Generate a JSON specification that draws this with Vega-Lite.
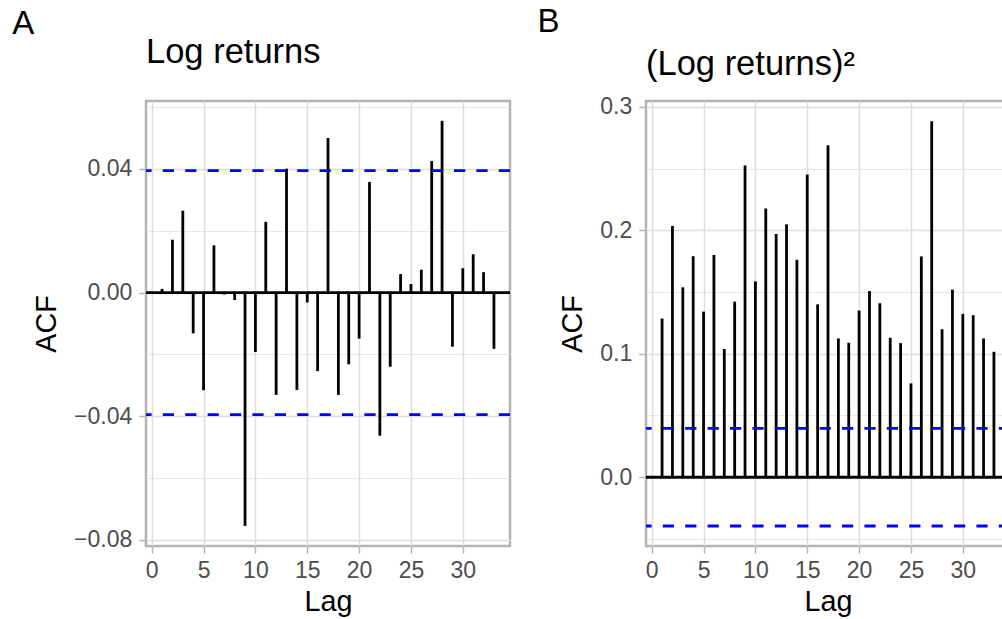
{
  "$schema": "https://vega.github.io/schema/vega-lite/v6.json",
  "autosize": {"type": "none"},
  "padding": {"left": 146, "top": 101, "right": 856, "bottom": 518},
  "background": "white",
  "spacing": 24,
  "config": {
    "font": "Liberation Sans",
    "view": {"stroke": "#b3b3b3", "strokeWidth": 2.5},
    "title": {"font": "Liberation Sans", "fontWeight": "normal", "color": "black", "anchor": "start", "baseline": "alphabetic"},
    "axis": {
      "domain": false,
      "labelFont": "Liberation Sans",
      "labelFontSize": 23,
      "labelColor": "#4d4d4d",
      "labelOverlap": false,
      "labelFlush": false,
      "labelBound": false,
      "tickColor": "#b3b3b3",
      "tickSize": 7.2,
      "tickWidth": 1.4,
      "gridColor": "#dedede",
      "gridWidth": 1.4,
      "titleFont": "Liberation Sans",
      "titleFontSize": 28.75,
      "titleFontWeight": "normal",
      "titleColor": "black"
    },
    "axisX": {"labelPadding": 6, "titlePadding": 5},
    "axisY": {"labelPadding": 7, "titlePadding": 12}
  },
  "datasets": {
    "acf_ret": [
      {"lag": 1, "acf": 0.0012}, {"lag": 2, "acf": 0.0171}, {"lag": 3, "acf": 0.0265},
      {"lag": 4, "acf": -0.0132}, {"lag": 5, "acf": -0.0316}, {"lag": 6, "acf": 0.0153},
      {"lag": 7, "acf": -0.0006}, {"lag": 8, "acf": -0.0024}, {"lag": 9, "acf": -0.0755},
      {"lag": 10, "acf": -0.0192}, {"lag": 11, "acf": 0.0229}, {"lag": 12, "acf": -0.0331},
      {"lag": 13, "acf": 0.0401}, {"lag": 14, "acf": -0.0315}, {"lag": 15, "acf": -0.0032},
      {"lag": 16, "acf": -0.0254}, {"lag": 17, "acf": 0.05}, {"lag": 18, "acf": -0.0331},
      {"lag": 19, "acf": -0.0232}, {"lag": 20, "acf": -0.0149}, {"lag": 21, "acf": 0.0358},
      {"lag": 22, "acf": -0.0463}, {"lag": 23, "acf": -0.024}, {"lag": 24, "acf": 0.006},
      {"lag": 25, "acf": 0.0028}, {"lag": 26, "acf": 0.0074}, {"lag": 27, "acf": 0.0426},
      {"lag": 28, "acf": 0.0556}, {"lag": 29, "acf": -0.0175}, {"lag": 30, "acf": 0.0079},
      {"lag": 31, "acf": 0.0124}, {"lag": 32, "acf": 0.0066}, {"lag": 33, "acf": -0.0182}
    ],
    "acf_sq": [
      {"lag": 1, "acf": 0.1285}, {"lag": 2, "acf": 0.2035}, {"lag": 3, "acf": 0.1538},
      {"lag": 4, "acf": 0.179}, {"lag": 5, "acf": 0.1341}, {"lag": 6, "acf": 0.18},
      {"lag": 7, "acf": 0.1038}, {"lag": 8, "acf": 0.1422}, {"lag": 9, "acf": 0.2524},
      {"lag": 10, "acf": 0.1586}, {"lag": 11, "acf": 0.2177}, {"lag": 12, "acf": 0.197},
      {"lag": 13, "acf": 0.2048}, {"lag": 14, "acf": 0.1761}, {"lag": 15, "acf": 0.2452},
      {"lag": 16, "acf": 0.14}, {"lag": 17, "acf": 0.2688}, {"lag": 18, "acf": 0.1124},
      {"lag": 19, "acf": 0.1089}, {"lag": 20, "acf": 0.135}, {"lag": 21, "acf": 0.1508},
      {"lag": 22, "acf": 0.1409}, {"lag": 23, "acf": 0.1129}, {"lag": 24, "acf": 0.1086},
      {"lag": 25, "acf": 0.076}, {"lag": 26, "acf": 0.1788}, {"lag": 27, "acf": 0.2884},
      {"lag": 28, "acf": 0.1199}, {"lag": 29, "acf": 0.1519}, {"lag": 30, "acf": 0.1323},
      {"lag": 31, "acf": 0.1312}, {"lag": 32, "acf": 0.1124}, {"lag": 33, "acf": 0.1016}
    ],
    "ci": [{"ci": 0.0395}, {"ci": -0.0395}],
    "zero": [{"y": 0}]
  },
  "hconcat": [
    {
      "title": {"text": "A", "fontSize": 33, "dx": -19, "offset": -8},
      "vconcat": [
        {
          "width": 364,
          "height": 445,
          "title": {"text": "Log returns", "fontSize": 34.5, "frame": "group", "offset": 26},
          "layer": [
            {
              "data": {"name": "zero"},
              "mark": {"type": "rule", "color": "black", "strokeWidth": 2.8},
              "encoding": {
                "y": {
                  "field": "y", "type": "quantitative", "title": "ACF",
                  "scale": {"domain": [-0.082, 0.062], "nice": false, "zero": false},
                  "axis": {
                    "values": [-0.08, -0.06, -0.04, -0.02, 0, 0.02, 0.04, 0.06],
                    "format": ".2f",
                    "labelExpr": "indexof([-0.06, -0.02, 0.02, 0.06], datum.value) >= 0 ? '' : datum.label",
                    "tickOpacity": {"condition": {"test": "indexof([-0.06, -0.02, 0.02, 0.06], datum.value) >= 0", "value": 0}, "value": 1},
                    "gridWidth": {"condition": {"test": "indexof([-0.06, -0.02, 0.02, 0.06], datum.value) >= 0", "value": 0.7}, "value": 1.4}
                  }
                }
              }
            },
            {
              "data": {"name": "acf_ret"},
              "mark": {"type": "rule", "color": "black", "strokeWidth": 2.8, "strokeCap": "butt"},
              "encoding": {
                "x": {
                  "field": "lag", "type": "quantitative", "title": "Lag",
                  "scale": {"domain": [-0.55, 34.55], "nice": false, "zero": false},
                  "axis": {"values": [0, 5, 10, 15, 20, 25, 30], "format": "d"}
                },
                "y": {"field": "acf", "type": "quantitative", "title": "ACF"},
                "y2": {"datum": 0}
              }
            },
            {
              "data": {"name": "ci"},
              "mark": {"type": "rule", "color": "#0000ff", "strokeWidth": 2.8, "strokeDash": [11.2, 11.2]},
              "encoding": {"y": {"field": "ci", "type": "quantitative", "title": "ACF"}}
            }
          ]
        }
      ]
    },
    {
      "title": {"text": "B", "fontSize": 33, "dx": -20, "offset": 7},
      "vconcat": [
        {
          "width": 364,
          "height": 445,
          "title": {"text": "(Log returns)²", "fontSize": 34.5, "frame": "group", "offset": 13},
          "layer": [
            {
              "data": {"name": "zero"},
              "mark": {"type": "rule", "color": "black", "strokeWidth": 2.8},
              "encoding": {
                "y": {
                  "field": "y", "type": "quantitative", "title": "ACF",
                  "scale": {"domain": [-0.0557, 0.3047], "nice": false, "zero": false},
                  "axis": {
                    "values": [-0.05, 0, 0.05, 0.1, 0.15, 0.2, 0.25, 0.3],
                    "format": ".1f",
                    "labelExpr": "indexof([-0.05, 0.05, 0.15, 0.25], datum.value) >= 0 ? '' : datum.label",
                    "tickOpacity": {"condition": {"test": "indexof([-0.05, 0.05, 0.15, 0.25], datum.value) >= 0", "value": 0}, "value": 1},
                    "gridWidth": {"condition": {"test": "indexof([-0.05, 0.05, 0.15, 0.25], datum.value) >= 0", "value": 0.7}, "value": 1.4}
                  }
                }
              }
            },
            {
              "data": {"name": "acf_sq"},
              "mark": {"type": "rule", "color": "black", "strokeWidth": 2.8, "strokeCap": "butt"},
              "encoding": {
                "x": {
                  "field": "lag", "type": "quantitative", "title": "Lag",
                  "scale": {"domain": [-0.55, 34.55], "nice": false, "zero": false},
                  "axis": {"values": [0, 5, 10, 15, 20, 25, 30], "format": "d"}
                },
                "y": {"field": "acf", "type": "quantitative", "title": "ACF"},
                "y2": {"datum": 0}
              }
            },
            {
              "data": {"name": "ci"},
              "mark": {"type": "rule", "color": "#0000ff", "strokeWidth": 2.8, "strokeDash": [11.2, 11.2]},
              "encoding": {"y": {"field": "ci", "type": "quantitative", "title": "ACF"}}
            }
          ]
        }
      ]
    }
  ]
}
